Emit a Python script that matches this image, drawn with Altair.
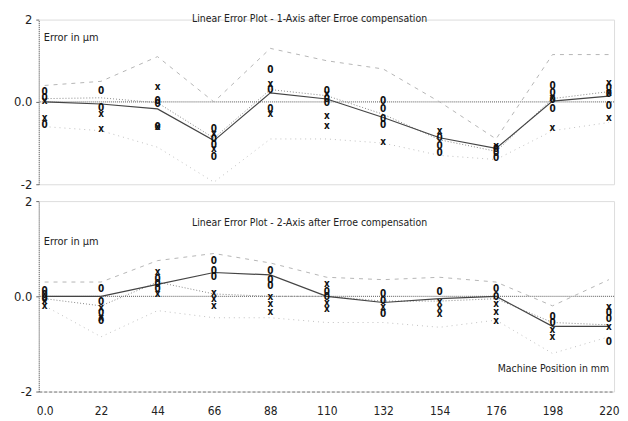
import altair as alt
import pandas as pd

FONT = "Liberation Sans Narrow, DejaVu Sans Condensed, Liberation Sans, Arial"

positions = [0, 22, 44, 66, 88, 110, 132, 154, 176, 198, 220]
tick_labels = ["0.0", "22", "44", "66", "88", "110", "132", "154", "176", "198", "220"]

# ---- Axis 1 (top panel) ----
axis1_mean = [0.0, -0.05, -0.17, -0.94, 0.22, 0.07, -0.38, -0.87, -1.13, 0.02, 0.14]
axis1_run = [0.08, 0.1, -0.02, -0.88, 0.3, 0.15, -0.3, -0.92, -1.2, 0.08, 0.25]
axis1_upper = [0.4, 0.5, 1.1, 0.0, 1.3, 1.0, 0.8, 0.0, -0.9, 1.15, 1.15]
axis1_lower = [-0.6, -0.7, -1.1, -1.95, -0.9, -0.9, -1.0, -1.3, -1.4, -0.7, -0.5]
axis1_o = [[0.25, 0.1, -0.55], [0.27, -0.15], [0.02, -0.05, -0.6], [-0.65, -0.9, -1.05, -1.35],
           [0.77, 0.3, -0.17], [0.26, 0.08, -0.02], [0.02, -0.17, -0.41, -0.55],
           [-0.87, -1.06, -1.25], [-1.15, -1.25, -1.37], [0.39, 0.22, 0.05, -0.17],
           [0.34, 0.19, -0.1]]
axis1_x = [[0.02, -0.39], [-0.3, -0.65], [0.36, -0.6], [-0.78, -1.15], [0.43, -0.29],
           [0.18, -0.34, -0.58], [-0.98], [-0.7], [-1.06], [0.1, -0.63], [0.46, 0.22, -0.38]]

# ---- Axis 2 (bottom panel) ----
axis2_mean = [0.0, 0.0, 0.25, 0.5, 0.45, 0.0, -0.13, -0.05, 0.0, -0.63, -0.63]
axis2_run = [-0.05, -0.2, 0.3, 0.05, 0.0, 0.0, -0.1, -0.1, -0.05, -0.55, -0.6]
axis2_upper = [0.3, 0.3, 0.75, 0.9, 0.7, 0.4, 0.35, 0.4, 0.3, -0.2, 0.35]
axis2_lower = [-0.2, -0.85, -0.3, -0.45, -0.45, -0.55, -0.55, -0.65, -0.5, -1.2, -0.85]
axis2_o = [[0.12, 0.02, -0.05], [0.15, -0.13, -0.35, -0.52], [0.36, 0.25, 0.15],
           [0.74, 0.53, 0.4], [0.53, 0.34, 0.21], [0.1, -0.02], [0.04, -0.1, -0.38],
           [0.1], [0.15, -0.02], [-0.44, -0.57], [-0.36, -0.48, -0.97]]
axis2_x = [[-0.1, -0.2], [-0.25, -0.45], [0.5, 0.04], [0.06, -0.06, -0.2],
           [-0.02, -0.17, -0.32], [0.25, -0.15, -0.27], [-0.23], [-0.13, -0.25, -0.38],
           [-0.17, -0.34, -0.52], [-0.7, -0.86], [-0.23, -0.65]]

titles = ["Linear Error Plot - 1-Axis after Erroe compensation",
          "Linear Error Plot - 2-Axis after Erroe compensation"]
y_title = "Error in µm"
x_title = "Machine Position in mm"

XSCALE = alt.Scale(domain=[-2.3, 222], nice=False, zero=False)
YSCALE = alt.Scale(domain=[-2, 2], nice=False, zero=False)


def line_layer(vals, color, dash, width):
    df = pd.DataFrame({"pos": positions, "val": vals})
    return alt.Chart(df).mark_line(color=color, strokeDash=dash, strokeWidth=width).encode(
        x=alt.X("pos:Q", scale=XSCALE), y=alt.Y("val:Q", scale=YSCALE))


def marker_layer(groups, symbol):
    rows = [{"pos": p, "val": v, "s": symbol} for p, g in zip(positions, groups) for v in g]
    return alt.Chart(pd.DataFrame(rows)).mark_text(
        font=FONT, fontSize=10, fontWeight="bold", color="#111").encode(
        x=alt.X("pos:Q", scale=XSCALE), y=alt.Y("val:Q", scale=YSCALE), text="s:N")


def label_layer(text, x, y, align, size):
    return alt.Chart(pd.DataFrame({"t": [text]})).mark_text(
        font=FONT, fontSize=size, align=align, baseline="middle", color="#222").encode(
        x=alt.value(x), y=alt.value(y), text="t:N")


def panel(mean, run, upper, lower, o_groups, x_groups, height, title, title_y, ylab_y, bottom):
    yaxis = alt.Axis(values=[-2, 0, 2], labelExpr="datum.value == 0 ? '0.0' : datum.value",
                     grid=False, domainDash=[1, 1], domainColor="#666", tickColor="#666",
                     tickSize=3, labelPadding=4, labelFont=FONT, labelFontSize=13,
                     labelColor="#222", title=None)
    if bottom:
        xaxis = alt.Axis(values=positions, labelExpr="datum.value == 0 ? '0.0' : datum.label",
                         grid=False, ticks=False, domainDash=[3, 2], domainColor="#777",
                         labelPadding=14, labelFont=FONT, labelFontSize=12, labelColor="#222",
                         labelFlush=False, title=None, format="d")
    else:
        xaxis = None
    base = alt.Chart(pd.DataFrame({"pos": positions, "val": mean})).mark_point(opacity=0).encode(
        x=alt.X("pos:Q", scale=XSCALE, axis=xaxis), y=alt.Y("val:Q", scale=YSCALE, axis=yaxis))
    zero = alt.Chart(pd.DataFrame({"v": [0]})).mark_rule(
        color="#555", strokeDash=[1, 1], strokeWidth=1).encode(y=alt.Y("v:Q", scale=YSCALE))
    layers = [base, zero,
              line_layer(upper, "#b5b5b5", [4, 5], 1),
              line_layer(lower, "#c0c0c0", [1, 4], 1),
              line_layer(run, "#888", [1, 2], 1),
              line_layer(mean, "#444", [], 1.2),
              marker_layer(o_groups, "0"),
              marker_layer(x_groups, "x"),
              label_layer(title, 273, title_y, "center", 10.5),
              label_layer(y_title, 5, ylab_y, "left", 11)]
    if bottom:
        layers.append(label_layer(x_title, 575, 169, "right", 10.5))
    return alt.layer(*layers).properties(width=580, height=height)


top = panel(axis1_mean, axis1_run, axis1_upper, axis1_lower, axis1_o, axis1_x,
            166, titles[0], -1, 19, False)
bottom = panel(axis2_mean, axis2_run, axis2_upper, axis2_lower, axis2_o, axis2_x,
               192, titles[1], 22, 41, True)

chart = alt.vconcat(top, bottom, spacing=17, bounds="flush").properties(
    padding={"left": 4, "top": 3, "right": 0, "bottom": 0}
).configure_view(stroke=None).configure(background="white")

chart.save("out.html", embed_options={"renderer": "svg", "actions": False})
